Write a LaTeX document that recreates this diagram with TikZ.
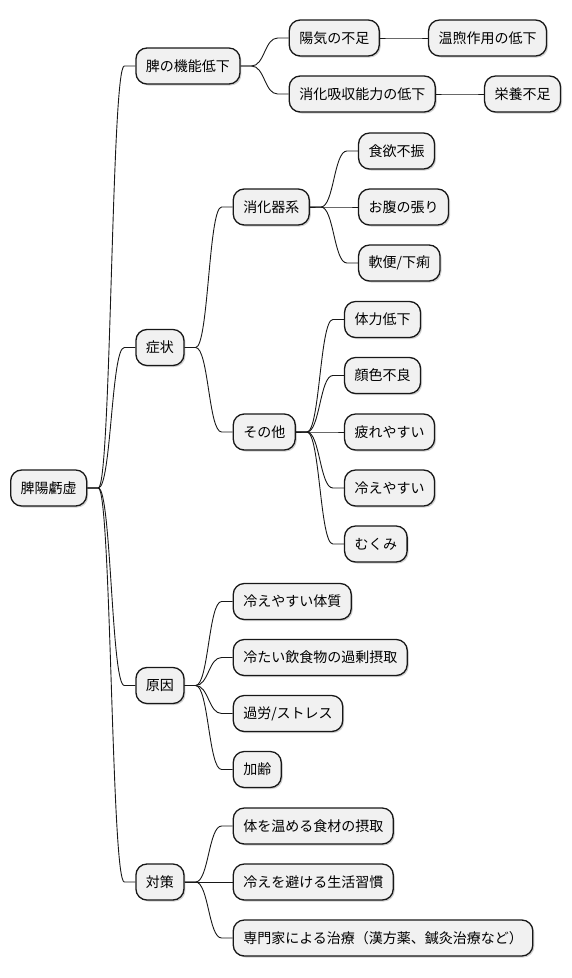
\documentclass[tikz,border=0pt]{standalone}
\usepackage{fontspec}
\setmainfont{Noto Sans CJK JP}
\usetikzlibrary{calc}
\usetikzlibrary{shadows}
\definecolor{boxfill}{HTML}{F1F1F1}
\definecolor{boxline}{HTML}{181818}
\tikzset{
	item/.style={draw=boxline, fill=boxfill, line width=1.3pt, rounded corners=11pt,
		minimum height=36pt, inner xsep=10pt, font=\fontsize{14}{16}\selectfont,
		drop shadow={shadow xshift=1.5pt, shadow yshift=-1.5pt, fill=black, opacity=0.18}},
	link/.style={draw=boxline, line width=0.9pt,
		to path={-- ++(11,0) .. controls +(13,0) and +(-13,0) .. ([xshift=-11pt]\tikztotarget) -- (\tikztotarget)}}
}
\newcommand{\branch}[4] % name, parent, y in px, text
{
	% box 48px right of its parent
	\node[item, anchor=west] (#1) at ($(#2.east |- 0,#3)+(48,0)$) {#4};
	% stub, curve, stub
	\draw[link] (#2.east) to (#1.west);
}
\begin{document}
\begin{tikzpicture}[x=1pt, y=-1pt]
	% canvas 572 x 978, y runs downward
	\useasboundingbox (0,0) rectangle (572,978);
	\node[item, anchor=west] (root) at (10,488) {脾陽虧虚};
	
	\branch{func}{root}{66}{脾の機能低下};
	\branch{yangqi}{func}{38}{陽気の不足};
	\branch{warm}{yangqi}{38}{温煦作用の低下};
	\branch{absorb}{func}{94}{消化吸収能力の低下};
	\branch{nutri}{absorb}{94}{栄養不足};
	
	\branch{symp}{root}{347.5}{症状};
	\branch{gut}{symp}{207}{消化器系};
	\branch{appet}{gut}{151}{食欲不振};
	\branch{bloat}{gut}{207}{お腹の張り};
	\branch{stool}{gut}{263}{軟便/下痢};
	\branch{other}{symp}{432}{その他};
	\branch{stamina}{other}{319.5}{体力低下};
	\branch{pale}{other}{375.5}{顔色不良};
	\branch{tired}{other}{432}{疲れやすい};
	\branch{chill}{other}{488}{冷えやすい};
	\branch{swell}{other}{544}{むくみ};
	
	\branch{cause}{root}{685.5}{原因};
	\branch{const}{cause}{601.5}{冷えやすい体質};
	\branch{cold}{cause}{657.5}{冷たい飲食物の過剰摂取};
	\branch{stress}{cause}{713.5}{過労/ストレス};
	\branch{age}{cause}{769.5}{加齢};
	
	\branch{care}{root}{882}{対策};
	\branch{food}{care}{826}{体を温める食材の摂取};
	\branch{habit}{care}{882}{冷えを避ける生活習慣};
	\branch{expert}{care}{938}{専門家による治療（漢方薬、鍼灸治療など）};
\end{tikzpicture}
\end{document}
